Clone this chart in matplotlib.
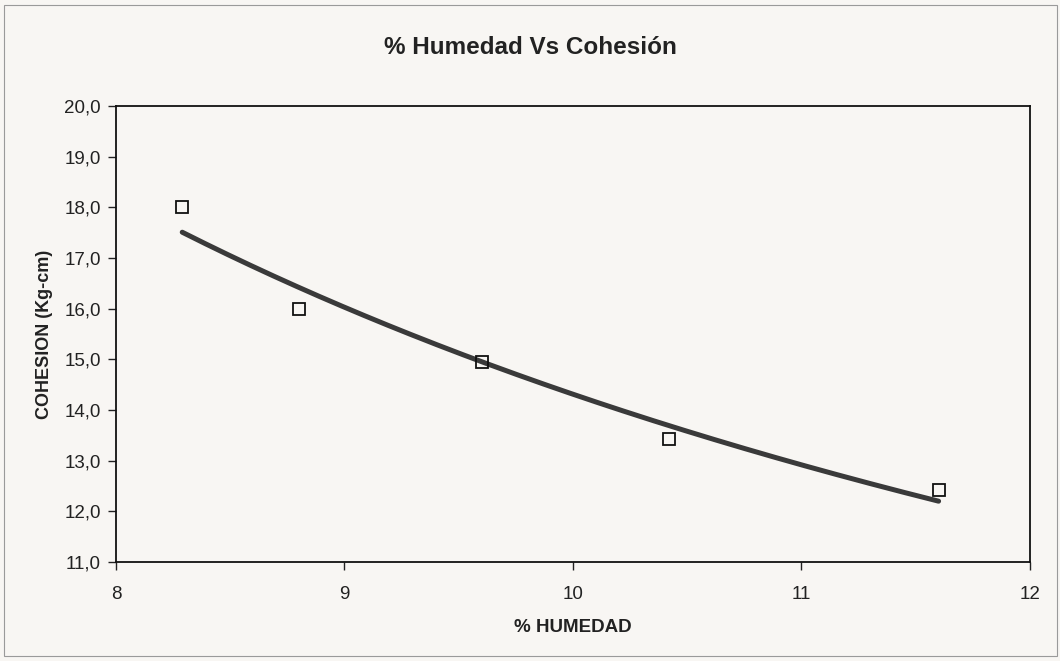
import numpy as np
import matplotlib.pyplot as plt
from matplotlib.patches import Rectangle
from matplotlib.ticker import FuncFormatter

plt.rcParams['font.family'] = ['Liberation Sans', 'DejaVu Sans']

humedad = [8.29, 8.80, 9.60, 10.42, 11.60]
cohesion = [18.0, 16.0, 14.95, 13.43, 12.42]

# power trendline, like the spreadsheet's
b, ln_a = np.polyfit(np.log(humedad), np.log(cohesion), 1)
xs = np.linspace(min(humedad), max(humedad), 200)
ys = np.exp(ln_a) * xs ** b

bg = '#f8f6f3'
fig = plt.figure(figsize=(10.6, 6.61), dpi=100, facecolor=bg)
ax = fig.add_axes([0.1094, 0.1498, 0.8623, 0.6898], facecolor=bg)

ax.plot(xs, ys, color='#3a3a3a', lw=3.6, solid_capstyle='round', zorder=2)
ax.plot(humedad, cohesion, 's', ms=8.5, mfc='none', mec='#111111', mew=1.3, zorder=3)

ax.set_xlim(8, 12)
ax.set_ylim(11, 20)
ax.set_xticks([8, 9, 10, 11, 12])
ax.set_yticks(np.arange(11, 20.5, 1))
ax.yaxis.set_major_formatter(FuncFormatter(lambda v, p: f'{v:.1f}'.replace('.', ',')))
ax.tick_params(direction='out', length=6, width=1, labelsize=13.5, colors='#222222', pad=5)
ax.tick_params(axis='x', pad=11)
for s in ax.spines.values():
    s.set_linewidth(1.3)
    s.set_color('#111111')

fig.text(0.5, 1 - 48 / 661, '% Humedad Vs Cohesión', ha='center', va='center',
         fontsize=17.5, fontweight='bold', color='#222222')
ax.set_xlabel('% HUMEDAD', fontsize=13.5, fontweight='bold', color='#222222', labelpad=12)
ax.set_ylabel('COHESION (Kg-cm)', fontsize=13, fontweight='bold', color='#222222', labelpad=8)

fig.patches.append(Rectangle((0.004, 0.008), 0.993, 0.985, transform=fig.transFigure,
                             fill=False, ec='#9a9a9a', lw=0.8))

fig.savefig('out.png', dpi=100, facecolor=bg)
